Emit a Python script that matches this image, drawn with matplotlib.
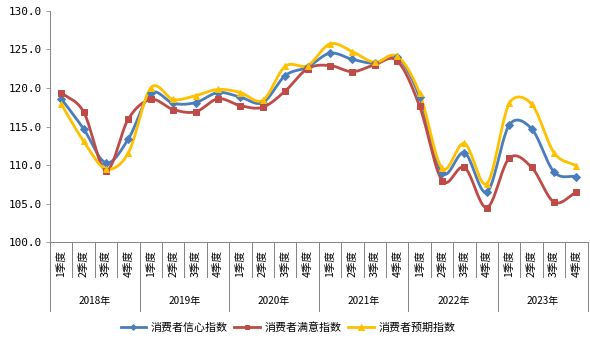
import numpy as np
import matplotlib
matplotlib.use("Agg")
import matplotlib.pyplot as plt
from matplotlib.lines import Line2D

plt.rcParams['font.family'] = ['Noto Sans CJK SC', 'DejaVu Sans']

# ---- data ----
YEARS = ["2018年", "2019年", "2020年", "2021年", "2022年", "2023年"]
QUARTERS = ["1季度", "2季度", "3季度", "4季度"]

confidence = [118.6, 114.7, 110.3, 113.4, 119.3, 118.0, 118.1, 119.4,
              118.8, 118.1, 121.6, 122.7, 124.5, 123.7, 123.2, 124.0,
              118.8, 109.0, 111.6, 106.5, 115.2, 114.7, 109.1, 108.5]
satisfaction = [119.4, 116.9, 109.3, 116.0, 118.5, 117.2, 116.9, 118.6,
                117.7, 117.5, 119.6, 122.5, 122.9, 122.1, 123.0, 123.5,
                117.6, 108.0, 109.7, 104.5, 110.9, 109.7, 105.2, 106.5]
expectation = [117.9, 113.1, 109.5, 111.6, 120.0, 118.5, 119.0, 119.8,
               119.4, 118.4, 122.8, 122.9, 125.7, 124.7, 123.3, 124.1,
               119.3, 109.6, 112.8, 107.6, 118.0, 117.9, 111.6, 109.9]

SERIES = [
    ("消费者信心指数", confidence, "#4A7EBB", "D", 5),
    ("消费者满意指数", satisfaction, "#BE4B48", "s", 6),
    ("消费者预期指数", expectation, "#FFC000", "^", 6.5),
]


def smooth(x, y, sx=22.4, sy=7.72, steps=24):
    """Excel-style smoothed line: Catmull-Rom Bezier, handles capped at half a segment."""
    P = np.column_stack([np.asarray(x, float) * sx, np.asarray(y, float) * sy])
    n = len(P)
    t = np.linspace(0, 1, steps, endpoint=False)[:, None]
    pts = []
    for i in range(n - 1):
        p0, p1, p2 = P[max(i - 1, 0)], P[i], P[i + 1]
        p3 = P[min(i + 2, n - 1)]
        d12 = np.hypot(*(p2 - p1))
        f = g = 1 / 6
        if i == 0:
            f = 1 / 3
        if i + 2 > n - 1:
            g = 1 / 3
        d02 = np.hypot(*(p2 - p0))
        d13 = np.hypot(*(p3 - p1))
        if d02 * f > d12 / 2:
            f = d12 / (2 * d02)
        if d13 * g > d12 / 2:
            g = d12 / (2 * d13)
        c1 = p1 + f * (p2 - p0)
        c2 = p2 - g * (p3 - p1)
        pts.append((1 - t) ** 3 * p1 + 3 * (1 - t) ** 2 * t * c1
                   + 3 * (1 - t) * t ** 2 * c2 + t ** 3 * p2)
    pts.append(P[-1:])
    pts = np.vstack(pts)
    return pts[:, 0] / sx, pts[:, 1] / sy


fig = plt.figure(figsize=(590 / 72, 343 / 72), dpi=72)
ax = fig.add_axes([50 / 590, 1 - 242.3 / 343, 537.7 / 590, 231.6 / 343])

n = len(confidence)
x = np.arange(n)
for name, vals, color, marker, ms in SERIES:
    cx, cy = smooth(x, vals)
    ax.plot(cx, cy, color=color, lw=2.8, solid_capstyle="round", zorder=2)
    ax.plot(x, vals, ls="none", marker=marker, ms=ms, color=color,
            mec=color, zorder=3)

ax.set_xlim(-0.5, n - 0.5)
ax.set_ylim(100, 130)
ax.set_yticks(np.arange(100, 131, 5))
ax.set_yticklabels([f"{v:.1f}" for v in np.arange(100, 131, 5)],
                   fontsize=11, family="DejaVu Sans Mono")
ax.tick_params(axis="y", direction="out", length=4, color="#868686", pad=4)
ax.set_xticks([])

for s in ["top", "right"]:
    ax.spines[s].set_visible(False)
for s in ["left", "bottom"]:
    ax.spines[s].set_color("#868686")
    ax.spines[s].set_linewidth(1)

# multi-level category axis
trans = ax.get_xaxis_transform()
h = 231.6
for b in range(n + 1):
    depth = -69 / h if b % 4 == 0 else -35 / h
    ax.plot([b - 0.5, b - 0.5], [0, depth], color="#868686", lw=1,
            transform=trans, clip_on=False)
for i in range(n):
    ax.text(i, -21 / h, QUARTERS[i % 4], rotation=90, ha="center", va="center",
            fontsize=10.5, transform=trans)
for j, yr in enumerate(YEARS):
    ax.text(j * 4 + 1.5, -59 / h, yr, ha="center", va="center",
            fontsize=10, transform=trans)

handles = [Line2D([], [], color=c, lw=2.8, marker=m, ms=ms * 0.8)
           for _, _, c, m, ms in SERIES]
fig.legend(handles, [s[0] for s in SERIES], loc="center",
           bbox_to_anchor=(288 / 590, 1 - 328 / 343), ncol=3, frameon=False,
           fontsize=11, handlelength=2.3, columnspacing=0.6, handletextpad=0.45)

fig.savefig("out.png", dpi=72)
